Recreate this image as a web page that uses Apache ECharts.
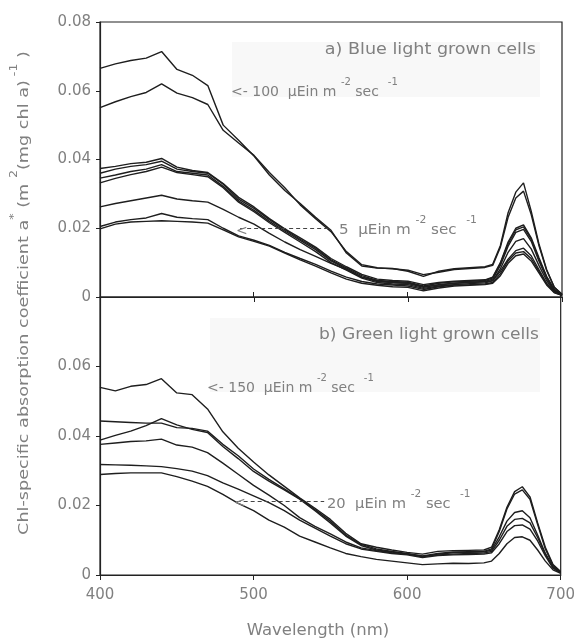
<!DOCTYPE html>
<html>
<head>
<meta charset="utf-8">
<script src="https://cdn.jsdelivr.net/npm/echarts@6/dist/echarts.min.js"></script>
<style>
  html, body { margin: 0; padding: 0; background: #fff; }
  #chart { width: 578px; height: 642px; }
</style>
</head>
<body>
<div id="chart"></div>
<script>
// wavelength grid (nm), finer around the red chl peak
const wavelengths = [400, 410, 420, 430, 440, 450, 460, 470, 480, 490,
  500, 510, 520, 530, 540, 550, 560, 570, 580, 590,
  600, 610, 620, 630, 640, 650, 655, 660, 665, 670, 675, 680, 685, 690, 695, 700]

// a) blue light grown cells (100 ... 5 uEin)
const blueA = [0.0665, 0.0678, 0.0688, 0.0695, 0.0714, 0.0662, 0.0645, 0.0615, 0.0500, 0.0456,
  0.0410, 0.0355, 0.0310, 0.0272, 0.0232, 0.0194, 0.0128, 0.0090, 0.0084, 0.0083,
  0.0075, 0.0060, 0.0075, 0.0082, 0.0085, 0.0088, 0.0095, 0.0150, 0.0245, 0.0305, 0.0332, 0.0250, 0.0155, 0.0080, 0.0028, 0.0008]
const blueB = [0.0551, 0.0568, 0.0583, 0.0595, 0.0620, 0.0593, 0.0580, 0.0560, 0.0485, 0.0448,
  0.0412, 0.0362, 0.0318, 0.0268, 0.0228, 0.0190, 0.0132, 0.0094, 0.0085, 0.0082,
  0.0078, 0.0065, 0.0072, 0.0080, 0.0083, 0.0086, 0.0092, 0.0145, 0.0232, 0.0288, 0.0308, 0.0240, 0.0150, 0.0078, 0.0028, 0.0008]
const blueC = [0.0374, 0.0380, 0.0388, 0.0392, 0.0403, 0.0378, 0.0368, 0.0362, 0.0330, 0.0290,
  0.0262, 0.0228, 0.0198, 0.0172, 0.0145, 0.0112, 0.0088, 0.0066, 0.0052, 0.0048,
  0.0046, 0.0036, 0.0042, 0.0046, 0.0048, 0.0050, 0.0058, 0.0100, 0.0160, 0.0200, 0.0210, 0.0172, 0.0115, 0.0060, 0.0022, 0.0006]
const blueD = [0.0360, 0.0372, 0.0380, 0.0385, 0.0395, 0.0372, 0.0365, 0.0360, 0.0328, 0.0285,
  0.0258, 0.0225, 0.0196, 0.0168, 0.0142, 0.0108, 0.0085, 0.0062, 0.0048, 0.0045,
  0.0043, 0.0032, 0.0040, 0.0044, 0.0046, 0.0048, 0.0056, 0.0098, 0.0155, 0.0195, 0.0204, 0.0168, 0.0110, 0.0058, 0.0020, 0.0006]
const blueE = [0.0346, 0.0355, 0.0365, 0.0372, 0.0385, 0.0365, 0.0360, 0.0355, 0.0322, 0.0280,
  0.0252, 0.0220, 0.0192, 0.0165, 0.0138, 0.0105, 0.0082, 0.0058, 0.0045, 0.0042,
  0.0040, 0.0028, 0.0036, 0.0040, 0.0043, 0.0045, 0.0052, 0.0092, 0.0148, 0.0188, 0.0197, 0.0162, 0.0105, 0.0055, 0.0018, 0.0005]
const blueF = [0.0332, 0.0345, 0.0356, 0.0365, 0.0378, 0.0362, 0.0356, 0.0350, 0.0318, 0.0276,
  0.0248, 0.0216, 0.0188, 0.0160, 0.0132, 0.0100, 0.0078, 0.0055, 0.0042, 0.0038,
  0.0036, 0.0025, 0.0032, 0.0036, 0.0039, 0.0041, 0.0047, 0.0082, 0.0130, 0.0162, 0.0170, 0.0140, 0.0092, 0.0048, 0.0016, 0.0005]
const blueG = [0.0262, 0.0272, 0.0280, 0.0288, 0.0296, 0.0285, 0.0280, 0.0276, 0.0255, 0.0232,
  0.0212, 0.0185, 0.0160, 0.0138, 0.0118, 0.0098, 0.0080, 0.0058, 0.0048, 0.0042,
  0.0040, 0.0030, 0.0035, 0.0040, 0.0042, 0.0044, 0.0048, 0.0075, 0.0110, 0.0135, 0.0142, 0.0120, 0.0080, 0.0040, 0.0015, 0.0005]
const blueH = [0.0205, 0.0218, 0.0225, 0.0230, 0.0243, 0.0232, 0.0228, 0.0225, 0.0200, 0.0178,
  0.0165, 0.0150, 0.0130, 0.0112, 0.0095, 0.0075, 0.0058, 0.0045, 0.0038, 0.0035,
  0.0032, 0.0022, 0.0030, 0.0035, 0.0036, 0.0038, 0.0042, 0.0068, 0.0105, 0.0128, 0.0132, 0.0112, 0.0075, 0.0038, 0.0014, 0.0005]
const blueI = [0.0198, 0.0212, 0.0218, 0.0220, 0.0222, 0.0220, 0.0218, 0.0215, 0.0195, 0.0175,
  0.0162, 0.0148, 0.0128, 0.0108, 0.0090, 0.0070, 0.0052, 0.0040, 0.0034, 0.0030,
  0.0028, 0.0018, 0.0026, 0.0032, 0.0034, 0.0036, 0.0040, 0.0062, 0.0098, 0.0120, 0.0125, 0.0105, 0.0070, 0.0035, 0.0012, 0.0005]

// b) green light grown cells (150 ... 20 uEin)
const greenP = [0.0540, 0.0530, 0.0543, 0.0548, 0.0565, 0.0524, 0.0519, 0.0478, 0.0412, 0.0365,
  0.0325, 0.0288, 0.0255, 0.0222, 0.0192, 0.0160, 0.0120, 0.0090, 0.0080, 0.0072,
  0.0065, 0.0060, 0.0068, 0.0070, 0.0071, 0.0072, 0.0080, 0.0130, 0.0195, 0.0240, 0.0254, 0.0225, 0.0150, 0.0080, 0.0030, 0.0010]
const greenQ = [0.0443, 0.0441, 0.0439, 0.0437, 0.0437, 0.0424, 0.0422, 0.0414, 0.0376, 0.0343,
  0.0305, 0.0275, 0.0248, 0.0220, 0.0188, 0.0155, 0.0115, 0.0088, 0.0075, 0.0068,
  0.0062, 0.0055, 0.0062, 0.0066, 0.0067, 0.0068, 0.0075, 0.0125, 0.0190, 0.0233, 0.0245, 0.0218, 0.0145, 0.0075, 0.0028, 0.0008]
const greenR = [0.0388, 0.0402, 0.0414, 0.0430, 0.0450, 0.0432, 0.0419, 0.0410, 0.0370, 0.0335,
  0.0298, 0.0270, 0.0245, 0.0218, 0.0185, 0.0150, 0.0112, 0.0085, 0.0072, 0.0066,
  0.0060, 0.0052, 0.0060, 0.0064, 0.0065, 0.0066, 0.0072, 0.0110, 0.0155, 0.0180, 0.0185, 0.0165, 0.0115, 0.0062, 0.0024, 0.0008]
const greenS = [0.0376, 0.0380, 0.0384, 0.0386, 0.0391, 0.0374, 0.0368, 0.0352, 0.0322, 0.0290,
  0.0258, 0.0230, 0.0200, 0.0165, 0.0140, 0.0118, 0.0095, 0.0078, 0.0070, 0.0064,
  0.0060, 0.0054, 0.0058, 0.0060, 0.0062, 0.0063, 0.0068, 0.0100, 0.0140, 0.0160, 0.0163, 0.0150, 0.0108, 0.0060, 0.0022, 0.0008]
const greenT = [0.0318, 0.0317, 0.0316, 0.0314, 0.0312, 0.0306, 0.0299, 0.0286, 0.0265, 0.0247,
  0.0228, 0.0208, 0.0185, 0.0158, 0.0135, 0.0112, 0.0090, 0.0075, 0.0068, 0.0062,
  0.0058, 0.0050, 0.0056, 0.0058, 0.0059, 0.0060, 0.0064, 0.0090, 0.0125, 0.0142, 0.0144, 0.0132, 0.0098, 0.0055, 0.0020, 0.0006]
const greenU = [0.0289, 0.0292, 0.0294, 0.0294, 0.0294, 0.0283, 0.0270, 0.0255, 0.0232, 0.0206,
  0.0185, 0.0158, 0.0138, 0.0112, 0.0095, 0.0078, 0.0062, 0.0053, 0.0045, 0.0040,
  0.0035, 0.0030, 0.0032, 0.0034, 0.0033, 0.0035, 0.0040, 0.0062, 0.0090, 0.0108, 0.0110, 0.0100, 0.0072, 0.0040, 0.0015, 0.0005]

const blueCurves = [blueA, blueB, blueC, blueD, blueE, blueF, blueG, blueH, blueI]
const greenCurves = [greenP, greenQ, greenR, greenS, greenT, greenU]

// dashed pointer lines: [x from, x to, y]
const blueLowPointer = [491, 549, 0.02]
const greenLowPointer = [489, 546, 0.0212]

const panelTitles = ['a) Blue light grown cells', 'b) Green light grown cells']
const intensityLabels = ['100', '5', '150', '20']
const xTitle = 'Wavelength (nm)'

const FONT = '"DejaVu Sans", sans-serif'
const TXT = '#808080'
const INK = '#1e1e1e'

const chart = echarts.init(document.getElementById('chart'))

function curveSeries (values, idx) {
  return {
    type: 'line',
    xAxisIndex: idx,
    yAxisIndex: idx,
    showSymbol: false,
    silent: true,
    z: 3,
    lineStyle: { color: INK, width: 1.4 },
    data: wavelengths.map((w, i) => [w, values[i]])
  }
}

function pointerLine (p) {
  return {
    silent: true,
    symbol: ['none', 'none'],
    label: { show: false },
    lineStyle: { color: '#444', width: 1, type: [4, 3] },
    data: [[{ coord: [p[0], p[2]] }, { coord: [p[1], p[2]] }]]
  }
}

const rich = {
  t: { fontFamily: FONT, fontSize: 14, color: TXT, lineHeight: 22, verticalAlign: 'bottom' },
  s: { fontFamily: FONT, fontSize: 10, color: TXT, lineHeight: 12, verticalAlign: 'top' }
}

function unitText (prefix, value) {
  return '{t|' + prefix + value + '  µEin m }{s|-2}{t| sec  }{s|-1}'
}

function textEl (x, y, text, align, extra, size) {
  return Object.assign({
    type: 'text',
    x: x,
    y: y,
    silent: true,
    z: 10,
    style: {
      text: text,
      rich: rich,
      align: align,
      verticalAlign: 'middle',
      fill: TXT,
      font: (size || 14) + 'px ' + FONT
    }
  }, extra || {})
}

// faint scan patches behind the panel labels
function patch (x, y, w, h) {
  return { type: 'rect', silent: true, z: 0, shape: { x: x, y: y, width: w, height: h }, style: { fill: '#f8f8f8' } }
}

const yAxisBase = {
  type: 'value',
  min: 0,
  max: 0.08,
  interval: 0.02,
  axisLine: { show: true, lineStyle: { color: '#222', width: 1.2 } },
  axisTick: { show: true, length: 4, lineStyle: { color: '#222' } },
  splitLine: { show: false }
}

const xAxisBase = {
  type: 'value',
  min: 400,
  max: 700,
  interval: 100,
  axisLine: { show: true, lineStyle: { color: '#222', width: 1.2 } },
  axisTick: { show: true, length: 5, lineStyle: { color: '#222' } },
  splitLine: { show: false }
}

const option = {
  animation: false,
  backgroundColor: '#fff',
  grid: [
    { left: 100, top: 22, width: 462, height: 275, show: true, borderColor: '#222', borderWidth: 1.2 },
    { left: 100, top: 297, width: 462, height: 278, show: true, borderColor: '#222', borderWidth: 1.2 }
  ],
  xAxis: [
    Object.assign({}, xAxisBase, { gridIndex: 0, position: 'bottom', axisLabel: { show: false } }),
    Object.assign({}, xAxisBase, {
      gridIndex: 1,
      position: 'bottom',
      axisLabel: { color: TXT, fontFamily: FONT, fontSize: 15, margin: 13 }
    }),
    Object.assign({}, xAxisBase, { gridIndex: 1, position: 'top', axisLabel: { show: false } })
  ],
  yAxis: [
    Object.assign({}, yAxisBase, {
      gridIndex: 0,
      axisLabel: {
        color: TXT, fontFamily: FONT, fontSize: 15, margin: 9,
        formatter: v => (v === 0 ? '0' : v.toFixed(2))
      }
    }),
    Object.assign({}, yAxisBase, {
      gridIndex: 1,
      axisLabel: {
        color: TXT, fontFamily: FONT, fontSize: 15, margin: 9,
        formatter: v => (v === 0 ? '0' : (v > 0.07 ? '' : v.toFixed(2)))
      }
    })
  ],
  series: [
    ...blueCurves.map(c => curveSeries(c, 0)),
    ...greenCurves.map(c => curveSeries(c, 1)),
    { type: 'line', xAxisIndex: 0, yAxisIndex: 0, data: [], markLine: pointerLine(blueLowPointer) },
    { type: 'line', xAxisIndex: 1, yAxisIndex: 1, data: [], markLine: pointerLine(greenLowPointer) }
  ],
  graphic: [
    patch(232, 42, 308, 55),
    patch(210, 318, 330, 74),
    textEl(536, 50, panelTitles[0], 'right', { scaleX: 1.17 }, 15),
    textEl(539, 335, panelTitles[1], 'right', { scaleX: 1.14 }, 15),
    textEl(231, 88, unitText('<- ', intensityLabels[0]), 'left'),
    textEl(236, 227, '{t|<}', 'left'),
    textEl(339, 226, unitText('', intensityLabels[1]), 'left', { scaleX: 1.08 }),
    textEl(207, 384, unitText('<- ', intensityLabels[2]), 'left'),
    textEl(234, 499, '{t|<}', 'left'),
    textEl(327, 500, unitText('', intensityLabels[3]), 'left', { scaleX: 1.05 }),
    textEl(318, 631, xTitle, 'center', { scaleX: 1.1 }, 15),
    textEl(20, 293, '{t|Chl-specific absorption coefficient a}{s|*}{t| (m }{s|2}{t|(mg chl a)}{s| -1}{t| )}', 'center', { rotation: Math.PI / 2, scaleX: 1.26 })
  ]
}

chart.setOption(option)
</script>
</body>
</html>
